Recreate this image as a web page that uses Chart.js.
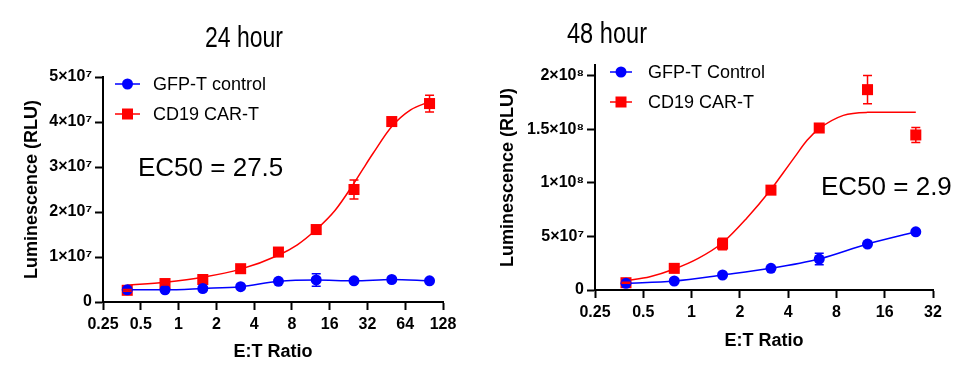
<!DOCTYPE html>
<html lang="en">
<head>
  <meta charset="UTF-8" />
  <title>Luminescence vs E:T Ratio</title>
  <script src="https://cdn.jsdelivr.net/npm/chart.js"></script>
  <style>
    body { margin: 0; background: #fff; width: 970px; height: 370px; position: relative; overflow: hidden; }
    .panel { position: absolute; top: 0; height: 370px; }
  </style>
</head>
<body>
  <div class="panel" style="left:0;width:480px"><canvas id="chart24" width="480" height="370"></canvas></div>
  <div class="panel" style="left:485px;width:485px"><canvas id="chart48" width="485" height="370"></canvas></div>

  <script>
    // ---- 24 hour ----
    const ratios24 = [0.39, 0.78, 1.56, 3.125, 6.25, 12.5, 25, 50, 100];
    const gfp24 = [2.7e6, 2.7e6, 3.0e6, 3.4e6, 4.6e6, 4.9e6, 4.7e6, 5.0e6, 4.7e6];
    const gfp24Err = [0.2e6, 0.2e6, 0.2e6, 0.2e6, 0.3e6, 1.4e6, 0.3e6, 0.3e6, 0.3e6];
    const car24 = [2.6e6, 4.1e6, 5.0e6, 7.4e6, 11.1e6, 16.1e6, 25.0e6, 40.1e6, 44.1e6];
    const car24Err = [0.2e6, 0.3e6, 0.3e6, 0.3e6, 0.4e6, 0.5e6, 2.1e6, 0.5e6, 1.85e6];
    const fit24X = [0.39, 0.78, 1.56, 3.125, 6.25, 8.84, 12.5, 17.7, 25, 29.7, 35.4, 50, 70.7, 100];
    const fit24Y = [3.7e6, 4.4e6, 5.5e6, 7.3e6, 10.4e6, 12.7e6, 16.1e6, 20.4e6, 26.4e6, 29.7e6, 33.0e6, 39.0e6, 42.7e6, 44.5e6];
    const xTicks24 = [0.25, 0.5, 1, 2, 4, 8, 16, 32, 64, 128];
    const xLabels24 = ['0.25', '0.5', '1', '2', '4', '8', '16', '32', '64', '128'];
    const yTicks24 = [0, 1e7, 2e7, 3e7, 4e7, 5e7];
    const yLabels24 = ['0', '1×10⁷', '2×10⁷', '3×10⁷', '4×10⁷', '5×10⁷'];

    // ---- 48 hour ----
    const ratios48 = [0.39, 0.78, 1.56, 3.125, 6.25, 12.5, 25];
    const gfp48 = [6.2e6, 8.4e6, 14.0e6, 20.2e6, 28.9e6, 42.9e6, 54.3e6];
    const gfp48Err = [0.5e6, 0.5e6, 1e6, 1e6, 5.4e6, 1e6, 1e6];
    const car48 = [6.8e6, 20.2e6, 42.9e6, 93.2e6, 151.2e6, 187e6, 144.7e6];
    const car48Err = [0.5e6, 1e6, 5.4e6, 1e6, 1.5e6, 13.2e6, 7e6];
    const fit48X = [0.39, 0.55, 0.78, 1.1, 1.56, 2.2, 3.125, 3.7, 4.4, 5.25, 6.25, 8.84, 12.5, 17.7, 25];
    const fit48Y = [8.7e6, 12.4e6, 19.6e6, 29.5e6, 44.1e6, 66.8e6, 93.8e6, 108.7e6, 124.2e6, 139.7e6, 150.6e6, 163e6, 165.8e6, 166e6, 166e6];
    const xTicks48 = [0.25, 0.5, 1, 2, 4, 8, 16, 32];
    const xLabels48 = ['0.25', '0.5', '1', '2', '4', '8', '16', '32'];
    const yTicks48 = [0, 5e7, 1e8, 1.5e8, 2e8];
    const yLabels48 = ['0', '5×10⁷', '1×10⁸', '1.5×10⁸', '2×10⁸'];

    const RED = '#ff0000';
    const BLUE = '#0000ff';
    const FONT = "'Liberation Sans', Arial, sans-serif";

    const pts = (xs, ys) => xs.map((x, i) => ({ x: x, y: ys[i] }));

    // error bars drawn through the chart's own scales
    const errorBars = {
      id: 'errorBars',
      afterDatasetsDraw(chart) {
        const { ctx, scales: { x, y } } = chart;
        chart.data.datasets.forEach(ds => {
          if (!ds.errors) return;
          ctx.save();
          ctx.strokeStyle = ds.borderColor;
          ctx.lineWidth = 1.5;
          ds.data.forEach((p, i) => {
            const e = ds.errors[i];
            if (!e) return;
            const px = x.getPixelForValue(p.x);
            const y1 = y.getPixelForValue(p.y + e);
            const y2 = y.getPixelForValue(p.y - e);
            ctx.beginPath();
            ctx.moveTo(px, y1); ctx.lineTo(px, y2);
            ctx.moveTo(px - 4.5, y1); ctx.lineTo(px + 4.5, y1);
            ctx.moveTo(px - 4.5, y2); ctx.lineTo(px + 4.5, y2);
            ctx.stroke();
          });
          ctx.restore();
        });
      }
    };

    // title, legend and EC50 label
    const decorations = {
      id: 'decorations',
      afterDraw(chart, args, o) {
        const ctx = chart.ctx;
        ctx.save();
        ctx.fillStyle = '#000';
        // the reference title uses a narrow face: squeeze to its width
        ctx.font = '30px ' + FONT;
        ctx.textAlign = 'center';
        ctx.textBaseline = 'alphabetic';
        const w = ctx.measureText(o.title).width;
        ctx.save();
        ctx.translate(o.titleX, o.titleY);
        ctx.scale(o.titleW / w, 1);
        ctx.fillText(o.title, 0, 0);
        ctx.restore();

        ctx.font = '26px ' + FONT;
        ctx.textAlign = 'left';
        ctx.fillText(o.ec50, o.ecX, o.ecY);

        ctx.font = '18px ' + FONT;
        ctx.textBaseline = 'middle';
        o.legend.forEach(item => {
          ctx.strokeStyle = item.color;
          ctx.fillStyle = item.color;
          ctx.lineWidth = 1.5;
          ctx.beginPath();
          ctx.moveTo(o.lx1, item.y); ctx.lineTo(o.lx2, item.y);
          ctx.stroke();
          const mx = (o.lx1 + o.lx2) / 2;
          ctx.beginPath();
          if (item.style === 'circle') ctx.arc(mx, item.y, 5.5, 0, Math.PI * 2);
          else ctx.rect(mx - 5.5, item.y - 5.5, 11, 11);
          ctx.fill();
          ctx.fillStyle = '#000';
          ctx.fillText(item.text, o.tx, item.y + 1);
        });
        ctx.restore();
      }
    };

    function makeChart(id, c) {
      return new Chart(document.getElementById(id), {
        type: 'scatter',
        data: {
          datasets: [
            {
              label: c.gfpName, data: pts(c.ratios, c.gfp), errors: c.gfpErr,
              showLine: true, cubicInterpolationMode: 'monotone',
              borderColor: BLUE, backgroundColor: BLUE, borderWidth: 1.5,
              pointStyle: 'circle', pointRadius: 5.5, pointBorderWidth: 0
            },
            {
              label: 'CD19 CAR-T', data: pts(c.ratios, c.car), errors: c.carErr,
              showLine: false,
              borderColor: RED, backgroundColor: RED,
              pointStyle: 'rect', pointRadius: 7.8, pointBorderWidth: 0
            },
            {
              label: 'CD19 CAR-T fit', data: pts(c.fitX, c.fitY),
              showLine: true, cubicInterpolationMode: 'monotone',
              borderColor: RED, borderWidth: 1.5, pointRadius: 0
            }
          ]
        },
        options: {
          responsive: false,
          animation: false,
          clip: false,
          layout: { padding: { left: 0, right: 37, top: c.padTop, bottom: 0 } },
          plugins: {
            legend: { display: false },
            tooltip: { enabled: false },
            decorations: c.deco
          },
          scales: {
            x: {
              type: 'logarithmic', min: c.xTicks[0], max: c.xTicks[c.xTicks.length - 1],
              afterBuildTicks: s => { s.ticks = c.xTicks.map(v => ({ value: v })); },
              ticks: {
                callback: (v, i) => c.xLabels[i],
                font: { family: FONT, size: 16, weight: 'bold' }, color: '#000',
                padding: 5, maxRotation: 0, autoSkip: false
              },
              grid: { drawOnChartArea: false, color: '#000', tickLength: 8, tickWidth: 2 },
              border: { color: '#000', width: 2 },
              title: {
                display: true, text: 'E:T Ratio', color: '#000',
                font: { family: FONT, size: 18, weight: 'bold' },
                padding: { top: 0, bottom: c.xTitlePad }
              },
              afterFit: s => { s.height = c.xHeight; }
            },
            y: {
              min: 0, max: c.yMax,
              afterBuildTicks: s => { s.ticks = c.yTicks.map(v => ({ value: v })); },
              ticks: {
                callback: (v, i) => c.yLabels[i],
                font: { family: FONT, size: 16, weight: 'bold' }, color: '#000', padding: 3
              },
              grid: { drawOnChartArea: false, color: '#000', tickLength: 8, tickWidth: 2 },
              border: { color: '#000', width: 2 },
              title: {
                display: true, text: 'Luminescence (RLU)', color: '#000',
                font: { family: FONT, size: 18, weight: 'bold' },
                padding: { top: c.yTitlePad, bottom: 0 }
              },
              afterFit: s => { s.width = c.yWidth; }
            }
          }
        },
        plugins: [errorBars, decorations]
      });
    }

    makeChart('chart24', {
      gfpName: 'GFP-T control',
      ratios: ratios24, gfp: gfp24, gfpErr: gfp24Err, car: car24, carErr: car24Err,
      fitX: fit24X, fitY: fit24Y,
      xTicks: xTicks24, xLabels: xLabels24, yTicks: yTicks24, yLabels: yLabels24,
      yMax: 5e7, padTop: 77, xHeight: 68, xTitlePad: 7, yWidth: 103, yTitlePad: 21,
      deco: {
        title: '24 hour', titleX: 244, titleY: 47, titleW: 78,
        ec50: 'EC50 = 27.5', ecX: 138, ecY: 176,
        lx1: 115, lx2: 140, tx: 153,
        legend: [
          { text: 'GFP-T control', color: BLUE, style: 'circle', y: 84 },
          { text: 'CD19 CAR-T', color: RED, style: 'rect', y: 114 }
        ]
      }
    });

    makeChart('chart48', {
      gfpName: 'GFP-T Control',
      ratios: ratios48, gfp: gfp48, gfpErr: gfp48Err, car: car48, carErr: car48Err,
      fitX: fit48X, fitY: fit48Y,
      xTicks: xTicks48, xLabels: xLabels48, yTicks: yTicks48, yLabels: yLabels48,
      yMax: 2.1e8, padTop: 65, xHeight: 80, xTitlePad: 18, yWidth: 110, yTitlePad: 12,
      deco: {
        title: '48 hour', titleX: 122, titleY: 43, titleW: 80,
        ec50: 'EC50 = 2.9', ecX: 336, ecY: 195,
        lx1: 125, lx2: 147, tx: 163,
        legend: [
          { text: 'GFP-T Control', color: BLUE, style: 'circle', y: 72 },
          { text: 'CD19 CAR-T', color: RED, style: 'rect', y: 102 }
        ]
      }
    });
  </script>
</body>
</html>
